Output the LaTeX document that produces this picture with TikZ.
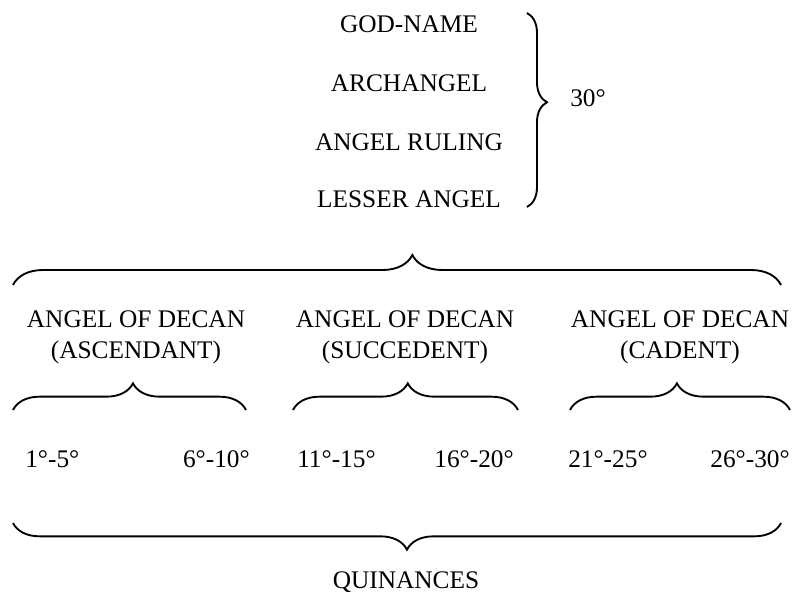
\documentclass[tikz,border=0pt]{standalone}
\usepackage{fontspec}
\setmainfont{Liberation Serif}
\usetikzlibrary{positioning,decorations.pathreplacing}

\begin{document}
\begin{tikzpicture}[x=0.75pt, y=-0.75pt,
      font=\fontsize{19}{22}\selectfont,
      lbl/.style={inner sep=0pt, anchor=base},
      brc/.style={decorate, line width=1.4pt,
                  decoration={brace, amplitude=#1}},
      brc/.default=20pt
    ]
    \useasboundingbox (0,0) rectangle (793,599);

    % names that rule the sign
    \node[lbl] (god)    at (409,33)  {GOD-NAME};
    \node[lbl] (arch)   at (409,92)  {ARCHANGEL};
    \node[lbl] (ruling) at (409,151) {ANGEL RULING};
    \node[lbl] (lesser) at (409,208) {LESSER ANGEL};
    \node[lbl, anchor=base west] (sign) at (570,107) {30\textdegree};

    \coordinate (signT) at (527,13);
    \coordinate (signB) at (527,207);
    \draw[brc=15pt, decoration={aspect=0.46}] (signT) -- (signB);

    % brace over the three decans
    \coordinate (topL) at (13,285);
    \coordinate (topR) at (781,285);
    \draw[brc=22.5pt, decoration={aspect=0.52}] (topL) -- (topR);

    % the three decans
    \node[lbl] (asc)  at (136,327) {ANGEL OF DECAN};
    \node[lbl] (ascB) at (136,358) {(ASCENDANT)};
    \node[lbl] (suc)  at (405,327) {ANGEL OF DECAN};
    \node[lbl] (sucB) at (405,358) {(SUCCEDENT)};
    \node[lbl] (cad)  at (680,327) {ANGEL OF DECAN};
    \node[lbl] (cadB) at (680,358) {(CADENT)};

    \coordinate (ascL) at (13,410);
    \coordinate (ascR) at (246,410);
    \coordinate (sucL) at (293,410);
    \coordinate (sucR) at (518,410);
    \coordinate (cadL) at (570,410);
    \coordinate (cadR) at (790,410);
    \draw[brc, decoration={aspect=0.515}] (ascL) -- (ascR);
    \draw[brc, decoration={aspect=0.51}]  (sucL) -- (sucR);
    \draw[brc, decoration={aspect=0.486}] (cadL) -- (cadR);

    % quinances
    \node[lbl, anchor=base west] (q1) at (25,467)  {1\textdegree-5\textdegree};
    \node[lbl, anchor=base east] (q2) at (250,467) {6\textdegree-10\textdegree};
    \node[lbl, anchor=base west] (q3) at (297,467) {11\textdegree-15\textdegree};
    \node[lbl, anchor=base east] (q4) at (514,467) {16\textdegree-20\textdegree};
    \node[lbl, anchor=base west] (q5) at (568,467) {21\textdegree-25\textdegree};
    \node[lbl, anchor=base east] (q6) at (790,467) {26\textdegree-30\textdegree};

    \coordinate (botR) at (781,523);
    \coordinate (botL) at (13,523);
    \draw[brc, decoration={aspect=0.487}] (botR) -- (botL);

    \node[lbl] (quin) at (406,588) {QUINANCES};
  \end{tikzpicture}
\end{document}
